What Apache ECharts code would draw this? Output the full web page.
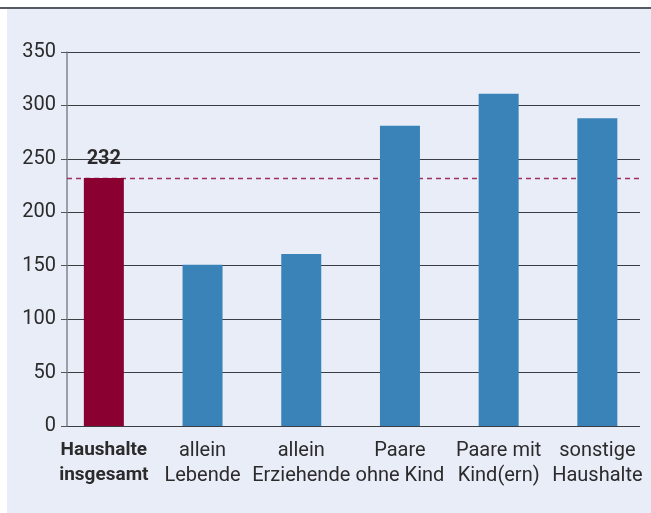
<!DOCTYPE html>
<html>
<head>
<meta charset="utf-8">
<script src="https://cdn.jsdelivr.net/npm/echarts@6/dist/echarts.min.js"></script>
<style>
  html, body { margin: 0; padding: 0; background: #fff; }
  #main { width: 651px; height: 513px; }
</style>
</head>
<body>
<div id="main"></div>
<script>
// Haushaltstypen
var categories = [
  'Haushalte\ninsgesamt',
  'allein\nLebende',
  'allein\nErziehende',
  'Paare\nohne Kind',
  'Paare mit\nKind(ern)',
  'sonstige\nHaushalte'
]
var values = [232, 151, 161, 281, 311, 288]
var average = 232
var yTicks = { min: 0, max: 350, interval: 50 }

var fontFamily = 'Roboto, "Liberation Sans", sans-serif'
var red = '#8a0030'
var blue = '#3a83b8'

var chart = echarts.init(document.getElementById('main'))

var option = {
  backgroundColor: '#ffffff',
  animation: false,
  textStyle: { fontFamily: fontFamily },
  graphic: [
    {
      type: 'rect',
      z: -10,
      shape: { x: 7, y: 9, width: 644, height: 504 },
      style: { fill: '#e8edf8' }
    },
    {
      type: 'line',
      z: -9,
      shape: { x1: 0, y1: 8, x2: 651, y2: 8 },
      style: { stroke: '#555a63', lineWidth: 2 }
    }
  ],
  grid: [
    // Raster mit y-Achse
    { left: 67, right: 11, top: 52, bottom: 87 },
    // Balken
    { left: 54.5, right: 4.3, top: 52, bottom: 87 }
  ],
  xAxis: [
    {
      type: 'category',
      gridIndex: 0,
      data: categories,
      show: false
    },
    {
      type: 'category',
      gridIndex: 1,
      data: categories,
      axisLine: { show: false },
      axisTick: { show: false },
      axisLabel: {
        interval: 0,
        hideOverlap: false,
        margin: 12,
        fontSize: 20,
        lineHeight: 25,
        color: '#2b2b2b',
        fontFamily: fontFamily,
        formatter: function (value, index) {
          if (index === 0) {
            return value.split('\n').map(function (s) { return '{b|' + s + '}' }).join('\n')
          }
          return value
        },
        rich: {
          b: { fontWeight: 'bold', fontSize: 19, lineHeight: 25, color: '#2b2b2b', fontFamily: fontFamily }
        }
      }
    }
  ],
  yAxis: [
    {
      type: 'value',
      gridIndex: 0,
      min: yTicks.min,
      max: yTicks.max,
      interval: yTicks.interval,
      axisLine: { show: true, lineStyle: { color: '#80848c', width: 1.5 } },
      axisTick: { show: true, length: 6, lineStyle: { color: '#555', width: 1 } },
      axisLabel: { margin: 11, fontSize: 20, color: '#2b2b2b', fontFamily: fontFamily },
      splitLine: { show: true, lineStyle: { color: '#3a3d44', width: 1.2 } }
    },
    {
      type: 'value',
      gridIndex: 1,
      min: yTicks.min,
      max: yTicks.max,
      interval: yTicks.interval,
      show: false,
      splitLine: { show: false }
    }
  ],
  series: [
    {
      // Durchschnitt aller Haushalte
      type: 'line',
      xAxisIndex: 0,
      yAxisIndex: 0,
      data: [],
      markLine: {
        silent: true,
        symbol: 'none',
        z: 1,
        label: { show: false },
        lineStyle: { color: '#a0325e', type: [5, 4], width: 1.3 },
        data: [{ yAxis: average }]
      }
    },
    {
      type: 'bar',
      xAxisIndex: 1,
      yAxisIndex: 1,
      barWidth: 40,
      z: 3,
      data: values.map(function (v, i) {
        var item = { value: v, itemStyle: { color: i === 0 ? red : blue } }
        if (i === 0) {
          item.label = {
            show: true,
            position: 'top',
            distance: 9,
            fontSize: 20,
            fontWeight: 'bold',
            color: '#2b2b2b',
            fontFamily: fontFamily
          }
        }
        return item
      })
    }
  ]
}

chart.setOption(option)
</script>
</body>
</html>
